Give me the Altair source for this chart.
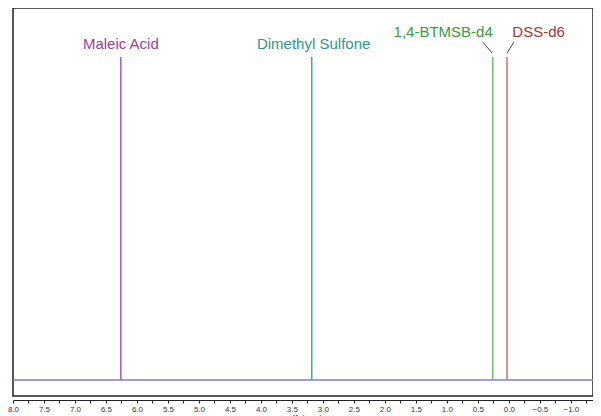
import altair as alt
import pandas as pd

# Peaks (chemical shift in ppm, relative intensity)
peak_names = ["Maleic Acid", "Dimethyl Sulfone", "1,4-BTMSB-d4", "DSS-d6"]
peak_shift = [6.26, 3.18, 0.26, 0.03]
peak_height = [1.0, 1.0, 1.0, 1.0]
peak_color = ["#9a5fb8", "#3eaaa5", "#72bb70", "#cc6e6e"]

# Annotation labels
label_color = ["#9c3f98", "#2f9490", "#3a9a45", "#a33333"]
label_x = [6.26, 3.15, 1.06, -0.48]
label_y = [1.04, 1.04, 1.077, 1.077]

# Leader lines for the two right-hand labels
leader_x1 = [0.42, -0.08]
leader_y1 = [1.046, 1.046]
leader_x2 = [0.27, 0.03]
leader_y2 = [1.012, 1.012]

# Axis
x_min, x_max = -1.47, 8.0
tick_vals = [8.0 - 0.25 * i for i in range(38)]

peaks = pd.DataFrame({"name": peak_names, "shift": peak_shift, "h": peak_height,
                      "base": [0.0] * 4, "color": peak_color})
labels = pd.DataFrame({"name": peak_names, "x": label_x, "y": label_y, "color": label_color})
leaders = pd.DataFrame({"x1": leader_x1, "y1": leader_y1, "x2": leader_x2, "y2": leader_y2})
baseline = pd.DataFrame({"x1": [x_max], "x2": [x_min], "y": [0.0]})

xscale = alt.Scale(domain=[x_max, x_min], range=[0, 587], nice=False, zero=False)
yscale = alt.Scale(domain=[-0.0495, 1.1517], nice=False, zero=False)

xaxis = alt.Axis(values=tick_vals, format=".1f",
                 labelExpr="(abs(datum.value * 2 - round(datum.value * 2)) < 0.01) ? format(datum.value, '.1f') : ''",
                 offset=4, domainColor="#222", tickColor="#222", tickSize=3,
                 labelFontSize=8, labelColor="#333", labelFont="Liberation Sans",
                 grid=False, title="f1 (ppm)", titleFontSize=8, titleFontWeight="normal",
                 titleFont="Liberation Sans", titleColor="#333", titlePadding=0,
                 titleX=294, labelFlush=False, labelOverlap=False)

base_line = alt.Chart(baseline).mark_rule(color="#8878c0", strokeWidth=1.5).encode(
    x=alt.X("x1:Q", scale=xscale, axis=xaxis),
    x2="x2:Q",
    y=alt.Y("y:Q", scale=yscale, axis=None),
)

peak_rules = alt.Chart(peaks).mark_rule(strokeWidth=1.5).encode(
    x=alt.X("shift:Q", scale=xscale, axis=xaxis),
    y=alt.Y("base:Q", scale=yscale, axis=None),
    y2="h:Q",
    color=alt.Color("color:N", scale=None),
)

leader_rules = alt.Chart(leaders).mark_rule(color="#444", strokeWidth=1).encode(
    x=alt.X("x1:Q", scale=xscale, axis=xaxis), y=alt.Y("y1:Q", scale=yscale, axis=None),
    x2="x2:Q", y2="y2:Q",
)

texts = alt.Chart(labels).mark_text(fontSize=15, font="Liberation Sans",
                                    baseline="middle", align="center").encode(
    x=alt.X("x:Q", scale=xscale, axis=xaxis), y=alt.Y("y:Q", scale=yscale, axis=None),
    text="name:N", color=alt.Color("color:N", scale=None),
)

chart = alt.layer(base_line, peak_rules, leader_rules, texts).properties(
    width=580, height=388,
    autosize=alt.AutoSizeParams(type="none"),
    padding={"left": 5, "top": 0, "right": 0, "bottom": 30},
).configure_view(stroke="#222", strokeWidth=1.5).configure_axis(labelOverlap=False)

chart.save("out.html", embed_options={"renderer": "svg", "actions": False})
